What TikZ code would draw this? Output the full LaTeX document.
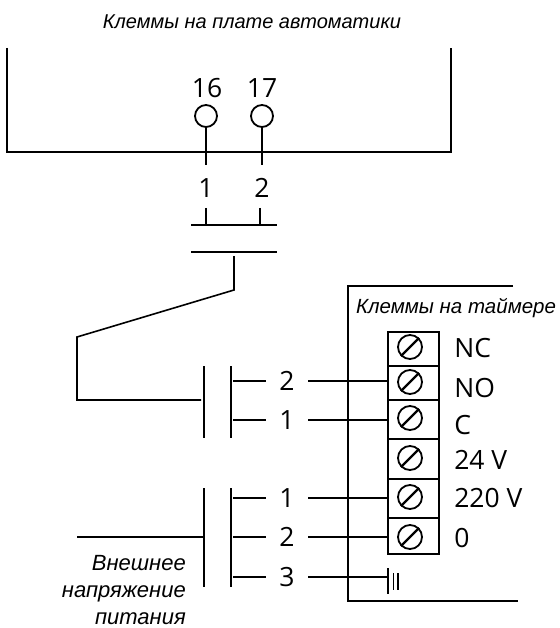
\documentclass[tikz,border=0pt]{standalone}
\usepackage{fontspec}
\setmainfont{Open Sans}
\newfontfamily\capfont{Liberation Sans}
\usetikzlibrary{positioning}
\tikzstyle{capt}=[inner sep=0pt,font=\capfont\itshape\fontsize{20}{27}\selectfont]
\tikzstyle{num}=[inner sep=0pt,font=\fontsize{26.5}{30}\selectfont]
\tikzstyle{pin}=[draw,circle,minimum size=22pt,inner sep=0pt,line width=1.8pt]
\tikzstyle{screw}=[draw,circle,minimum size=24pt,inner sep=0pt,line width=1.8pt]
\tikzstyle{term}=[draw,minimum width=51pt,inner sep=0pt,line width=2.2pt]
\tikzstyle{frame}=[line width=2.4pt]
\tikzstyle{wire}=[line width=1.6pt]

\begin{document}
\begin{tikzpicture}[x=1pt,y=-1pt]
\useasboundingbox (0,0) rectangle (559,628);
\node [capt] (cap1) at (252,22) {Клеммы на плате автоматики};
\node [capt,font=\capfont\itshape\fontsize{20.5}{27}\selectfont] (cap2) at (456,308) {Клеммы на таймере};
\node [capt,font=\capfont\itshape\fontsize{22}{27}\selectfont,align=right,anchor=north east] (cap3) at (186,555) {Внешнее\\напряжение\\питания};
% top board
\coordinate (b1) at (7,48);
\coordinate (b2) at (7,152);
\coordinate (b3) at (451,152);
\coordinate (b4) at (451,48);
\draw[frame] (b1) -- (b2) -- (b3) -- (b4);
\node [pin] (p16) at (206,116) {};
\node [pin] (p17) at (262,116) {};
\node [num] (n16) at (207,88) {16};
\node [num] (n17) at (262,88) {17};
\node [num] (t1) at (206,188) {1};
\node [num] (t2) at (262,188) {2};
\coordinate (s1) at (206,165);
\coordinate (s2) at (262,165);
\draw[wire] (p16) -- (s1);
\draw[wire] (p17) -- (s2);
% upper contact
\coordinate (u1) at (191,225);
\coordinate (u2) at (277,225);
\coordinate (u3) at (191,252);
\coordinate (u4) at (277,252);
\coordinate (k1) at (206,208);
\coordinate (k2) at (260,208);
\coordinate (l1) at (206,225);
\coordinate (l2) at (260,225);
\draw[wire] (u1) -- (u2);
\draw[wire] (u3) -- (u4);
\draw[wire] (k1) -- (l1);
\draw[wire] (k2) -- (l2);
% link down to relay
\coordinate (c1) at (234,256);
\coordinate (c2) at (234,290);
\coordinate (c3) at (77,337);
\coordinate (c4) at (77,400);
\coordinate (c5) at (201,400);
\draw[wire] (c1) -- (c2) -- (c3) -- (c4) -- (c5);
% contacts
\coordinate (r1) at (204,366);
\coordinate (r2) at (204,438);
\coordinate (r3) at (231,366);
\coordinate (r4) at (231,438);
\coordinate (r5) at (204,488);
\coordinate (r6) at (204,587);
\coordinate (r7) at (231,488);
\coordinate (r8) at (231,587);
\draw[wire] (r1) -- (r2);
\draw[wire] (r3) -- (r4);
\draw[wire] (r5) -- (r6);
\draw[wire] (r7) -- (r8);
\coordinate (v1) at (77,537);
\coordinate (v2) at (204,537);
\draw[wire] (v1) -- (v2);
% timer frame
\coordinate (f1) at (513,286);
\coordinate (f2) at (348,286);
\coordinate (f3) at (348,601);
\coordinate (f4) at (518,601);
\draw[frame] (f1) -- (f2) -- (f3) -- (f4);
% terminal block
\node [term,minimum height=34pt] (q1) at (413.5,349) {};
\node [term,minimum height=34pt] (q2) at (413.5,383) {};
\node [term,minimum height=39pt] (q3) at (413.5,419.5) {};
\node [term,minimum height=40pt] (q4) at (413.5,459) {};
\node [term,minimum height=39pt] (q5) at (413.5,498.5) {};
\node [term,minimum height=36pt] (q6) at (413.5,536) {};
\foreach \i/\y in {1/347,2/382,3/418,4/458,5/497,6/537} {
  \node [screw] (w\i) at (410,\y) {};
  \draw[frame] (w\i.225) -- (w\i.45);
}
\node [num,right=14pt of q1,yshift=1pt] (o1) {NC};
\node [num,right=14pt of q2,yshift=-5pt] (o2) {NO};
\node [num,right=14pt of q3,yshift=-5.5pt] (o3) {C};
\node [num,right=14pt of q4,yshift=-1pt] (o4) {24 V};
\node [num,right=14pt of q5] (o5) {220 V};
\node [num,right=14pt of q6,yshift=-2pt] (o6) {0};
% numbered wires
\foreach \i/\t/\y/\q in {a/2/381/q2,b/1/420/q3,c/1/498/q5,d/2/537/q6} {
  \coordinate (x\i) at (233,\y);
  \coordinate (y\i) at (266,\y);
  \coordinate (z\i) at (308,\y);
  \node [num] (m\i) at (287,\y) {\t};
  \draw[wire] (x\i) -- (y\i);
  \draw[wire] (z\i) -- (\q.west |- z\i);
}
\coordinate (xe) at (233,577);
\coordinate (ye) at (266,577);
\coordinate (ze) at (308,577);
\coordinate (ge) at (388,577);
\node [num] (me) at (287,577) {3};
\draw[wire] (xe) -- (ye);
\draw[wire] (ze) -- (ge);
% ground
\coordinate (g1) at (388,568);
\coordinate (g2) at (388,594);
\coordinate (g3) at (393.5,573);
\coordinate (g4) at (393.5,590);
\coordinate (g5) at (398,573);
\coordinate (g6) at (398,590);
\draw[wire] (g1) -- (g2);
\draw[wire] (g3) -- (g4);
\draw[wire] (g5) -- (g6);
\end{tikzpicture}
\end{document}
